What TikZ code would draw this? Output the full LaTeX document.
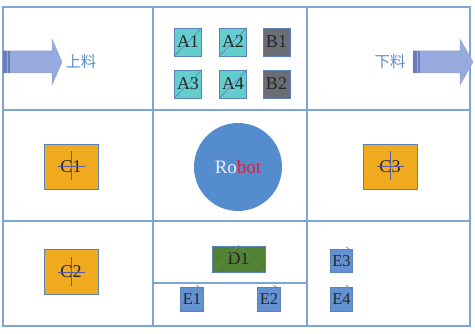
\documentclass[tikz,border=0pt]{standalone}
\usepackage{fontspec}
\setmainfont{Liberation Serif}
\newfontfamily\cjk{Noto Sans CJK SC}
\definecolor{gridc}{RGB}{125,165,215}
\definecolor{cyanf}{RGB}{100,205,205}
\definecolor{grayf}{RGB}{108,108,116}
\definecolor{orangef}{RGB}{240,170,30}
\definecolor{bluef}{RGB}{100,145,210}
\definecolor{greenf}{RGB}{80,130,50}
\definecolor{robotf}{RGB}{85,140,205}
\definecolor{arrowf}{RGB}{150,170,222}
\definecolor{arrowd}{RGB}{105,125,185}
\definecolor{cjkc}{RGB}{90,140,200}
\definecolor{boxd}{RGB}{90,130,185}
\definecolor{robred}{RGB}{225,30,60}
\tikzset{
  gridline/.style={draw=gridc, line width=1.1},
  box/.style={draw=boxd, line width=0.8, inner sep=0, text=black!85, font=\fontsize{18}{18}\selectfont},
  abox/.style={box, fill=cyanf, minimum width=27, minimum height=28},
  bbox/.style={box, fill=grayf, minimum width=27, minimum height=28},
  cbox/.style={box, fill=orangef, minimum width=54, minimum height=45},
  ebox/.style={box, fill=bluef, minimum width=22.5, minimum height=23.5, font=\fontsize{16.5}{16.5}\selectfont},
  dbox/.style={box, fill=greenf, minimum width=53, minimum height=26},
  mark line/.style={draw=boxd, line width=0.6},
  cross line/.style={draw=gray!70!blue, line width=0.6},
  arrowshape/.style={fill=arrowf, draw=arrowd!70, line width=0.5},
  cjktext/.style={text=cjkc, inner sep=0, font=\cjk\fontsize{15.5}{15.5}\selectfont},
}
\begin{document}
\begin{tikzpicture}[x=1pt, y=-1pt]
\useasboundingbox (0,0) rectangle (475,334);
% grid
\draw[gridline] (3,7) rectangle (470,326);
\draw[gridline] (153,7) -- (153,326);
\draw[gridline] (307,7) -- (307,326);
\draw[gridline] (3,110) -- (470,110);
\draw[gridline] (3,221) -- (470,221);
\draw[gridline] (153,283) -- (307,283);
% arrows
\draw[arrowshape] (3,51) -- (52,51) -- (52,39) -- (62,62) -- (52,85) -- (52,73) -- (3,73) -- cycle;
\fill[arrowd] (3,51) rectangle (10,73);
\draw[arrowf, line width=0.6] (7,51) -- (7,73);
\draw[arrowshape] (413,51) -- (460,51) -- (460,39) -- (473,62) -- (460,85) -- (460,73) -- (413,73) -- cycle;
\fill[arrowd] (413,51) rectangle (420,73);
\draw[arrowf, line width=0.6] (417,51) -- (417,73);
\node[cjktext] (up) at (81,62) {上料};
\node[cjktext] (down) at (390,62) {下料};
% A/B boxes
\node[abox] (A1) at (188,42) {A1};
\node[abox] (A2) at (233,42) {A2};
\node[bbox] (B1) at (276.5,42) {B1};
\node[abox] (A3) at (188,84) {A3};
\node[abox] (A4) at (233,84) {A4};
\node[bbox] (B2) at (276.5,84) {B2};
\foreach \n in {A1,A2,A3,A4}{\draw[mark line] (\n.south west) -- (\n.north east);}
\foreach \n in {B1,B2}{\draw[mark line] ([xshift=4,yshift=2]\n.center) -- ([yshift=-3]\n.east);}
% robot
\node[circle, fill=robotf, minimum size=88, inner sep=0, font=\fontsize{19}{19}\selectfont] (R) at (238,167) {\textcolor{white!92!blue}{Ro}\textcolor{robred}{bot}};
% C boxes
\node[cbox] (C1) at (71,166.5) {C1};
\node[cbox] (C2) at (71,272) {C2};
\node[cbox] (C3) at (390,166.5) {C3};
\foreach \n in {C1,C2,C3}{
  \draw[cross line] ([xshift=-13]\n.center) -- ([xshift=14]\n.center);
  \draw[cross line] ([yshift=-14]\n.center) -- ([yshift=15]\n.center);
}
% D1
\node[dbox] (D1) at (238.5,259) {D1};
\draw[mark line] (D1.south west) -- (D1.north) -- (D1.south east);
% E boxes
\node[ebox] (E1) at (192,299.5) {E1};
\node[ebox] (E2) at (269,299.5) {E2};
\node[ebox] (E3) at (341.5,261) {E3};
\node[ebox] (E4) at (341.5,299.5) {E4};
\foreach \n in {E1,E2,E3,E4}{
  \draw[mark line] ([xshift=-7,yshift=2]\n.north east) -- ([yshift=-3]\n.north east);
  \fill[boxd] ([yshift=1.5]\n.south) circle (0.7);
}
\end{tikzpicture}
\end{document}
